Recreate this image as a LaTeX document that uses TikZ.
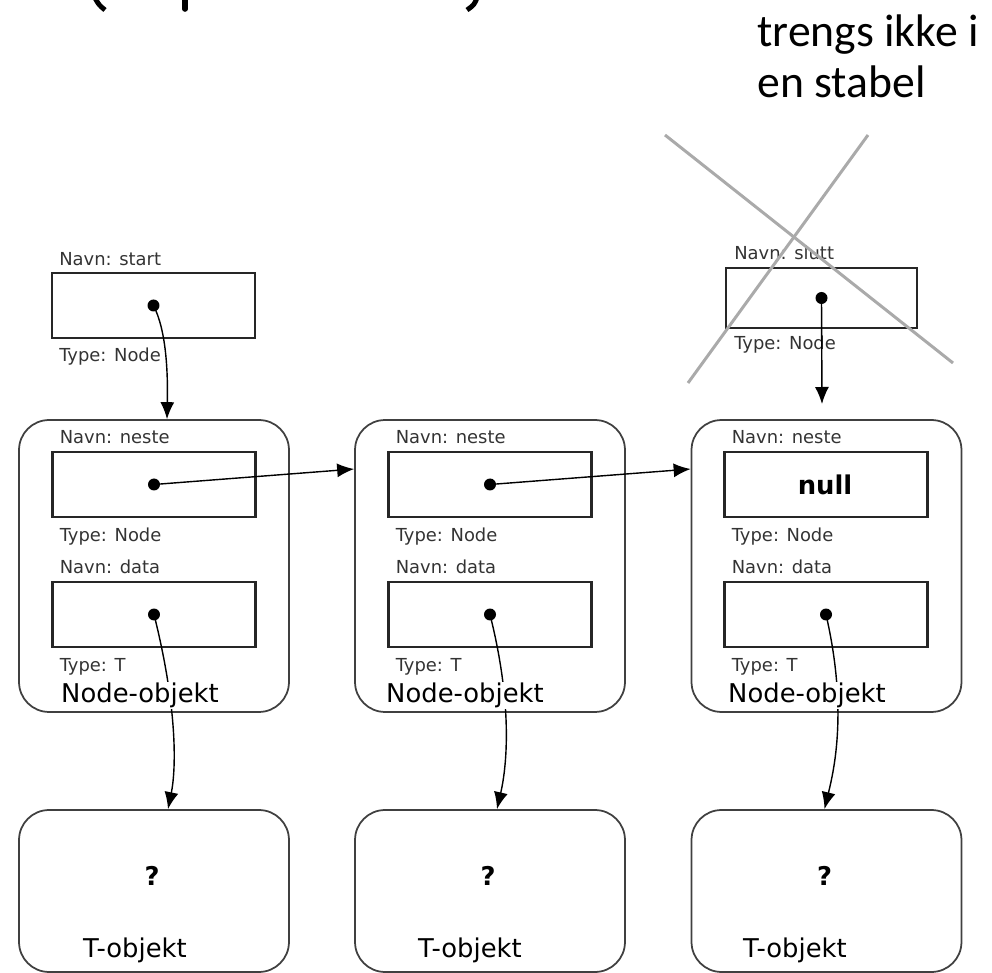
\documentclass[tikz,border=0pt]{standalone}
\usepackage{fontspec}
\setmainfont{DejaVu Sans}
\newfontfamily\notefont{Carlito}
\usepackage{tikz}
\usetikzlibrary{arrows.meta}
\definecolor{crossgray}{RGB}{170,170,170}

\begin{document}
\begin{tikzpicture}[x=0.02cm, y=-0.02cm,
	objbox/.style={draw=black!75, line width=1pt, rounded corners=0.6cm, minimum width=5.4cm, minimum height=5.84cm, inner sep=0},
	tbox/.style={draw=black!75, line width=1pt, rounded corners=0.6cm, minimum width=5.4cm, minimum height=3.24cm, inner sep=0},
	refbox/.style={draw=black!85, line width=1.2pt, minimum width=4.06cm, minimum height=1.3cm, inner sep=0},
	circ/.style={circle, fill, minimum size=0.24cm, inner sep=0},
	lbl/.style={font=\fontsize{10.2}{12}\selectfont, text=black!80, inner sep=0, anchor=base west},
	objlbl/.style={font=\fontsize{14.7}{17}\selectfont, inner sep=0.5pt, anchor=base west, fill=white},
	bigsign/.style={font=\bfseries\fontsize{14.7}{17}\selectfont, inner sep=0},
	ptr/.style={-{Latex[length=0.34cm, width=0.28cm]}, line width=0.8pt}
]
\useasboundingbox (0,0) rectangle (992,973);

\draw[line width=2.8pt] (95,-2) .. controls (99,5) .. (105,10);
\draw[line width=3.2pt, line cap=round] (185,-2) -- (185,9);
\draw[line width=2.8pt] (477,-2) .. controls (474,5) .. (467,10);

\node[font=\notefont\fontsize{26}{29}\selectfont, inner sep=0, anchor=base west] (note1) at (757,47) {trengs ikke i};
\node[font=\notefont\fontsize{26}{29}\selectfont, inner sep=0, anchor=base west] (note2) at (757,98) {en stabel};

\node[refbox] (start) at (153.5,305.5) {};
\node[circ] (dstart) at (start.center) {};
\node[lbl] (navnstart) at ([xshift=0.16cm, yshift=0.12cm]start.north west) {Navn: start};
\node[lbl] (typestart) at ([xshift=0.16cm, yshift=-0.44cm]start.south west) {Type: Node};

\node[refbox, minimum width=3.82cm, minimum height=1.2cm] (slutt) at (821.5,298) {};
\node[circ] (dslutt) at (slutt.center) {};
\node[lbl] (navnslutt) at ([xshift=0.18cm, yshift=0.14cm]slutt.south west |- slutt.north) {Navn: slutt};
\node[lbl] (typeslutt) at ([xshift=0.18cm, yshift=-0.4cm]slutt.south west) {Type: Node};

\node[objbox] (nobj1) at (154,566) {};
\node[objbox] (nobj2) at (490,566) {};
\node[objbox] (nobj3) at (826.5,566) {};

\node[refbox] (neste1) at (154,484.5) {};
\node[refbox] (neste2) at (490,484.5) {};
\node[refbox] (neste3) at (826,484.5) {};
\node[refbox] (data1) at (154,614.5) {};
\node[refbox] (data2) at (490,614.5) {};
\node[refbox] (data3) at (826,614.5) {};

\node[circ] (dneste1) at (neste1.center) {};
\node[circ] (dneste2) at (neste2.center) {};
\node[bigsign] (null3) at ([xshift=-0.02cm]neste3.center) {null};
\node[circ] (ddata1) at (data1.center) {};
\node[circ] (ddata2) at (data2.center) {};
\node[circ] (ddata3) at (data3.center) {};

\node[lbl] (navnneste1) at ([xshift=0.16cm, yshift=0.14cm]neste1.north west) {Navn: neste};
\node[lbl] (navnneste2) at ([xshift=0.16cm, yshift=0.14cm]neste2.north west) {Navn: neste};
\node[lbl] (navnneste3) at ([xshift=0.16cm, yshift=0.14cm]neste3.north west) {Navn: neste};
\node[lbl] (typeneste1) at ([xshift=0.16cm, yshift=-0.46cm]neste1.south west) {Type: Node};
\node[lbl] (typeneste2) at ([xshift=0.16cm, yshift=-0.46cm]neste2.south west) {Type: Node};
\node[lbl] (typeneste3) at ([xshift=0.16cm, yshift=-0.46cm]neste3.south west) {Type: Node};
\node[lbl] (navndata1) at ([xshift=0.16cm, yshift=0.14cm]data1.north west) {Navn: data};
\node[lbl] (navndata2) at ([xshift=0.16cm, yshift=0.14cm]data2.north west) {Navn: data};
\node[lbl] (navndata3) at ([xshift=0.16cm, yshift=0.14cm]data3.north west) {Navn: data};
\node[lbl] (typedata1) at ([xshift=0.16cm, yshift=-0.46cm]data1.south west) {Type: T};
\node[lbl] (typedata2) at ([xshift=0.16cm, yshift=-0.46cm]data2.south west) {Type: T};
\node[lbl] (typedata3) at ([xshift=0.16cm, yshift=-0.46cm]data3.south west) {Type: T};

\node[tbox] (tobj1) at (154,891) {};
\node[tbox] (tobj2) at (490,891) {};
\node[tbox] (tobj3) at (826.5,891) {};

\node[bigsign] (q1) at ([xshift=-0.04cm, yshift=0.3cm]tobj1.center) {?};
\node[bigsign] (q2) at ([xshift=-0.04cm, yshift=0.3cm]tobj2.center) {?};
\node[bigsign] (q3) at ([xshift=-0.04cm, yshift=0.3cm]tobj3.center) {?};
\node[objlbl, fill=none] (tname1) at (82,957) {T-objekt};
\node[objlbl, fill=none] (tname2) at (417,957) {T-objekt};
\node[objlbl, fill=none] (tname3) at (742,957) {T-objekt};

\coordinate (sluttend) at (822,404);
\draw[ptr] (dstart.center) .. controls (166,330) and (168,370) .. ([xshift=0.26cm]nobj1.north);
\draw[ptr] (dslutt.center) -- (sluttend);
\draw[ptr] (dneste1.center) -- ([yshift=1.94cm]nobj2.west);
\draw[ptr] (dneste2.center) -- ([yshift=1.94cm]nobj3.west);
\draw[ptr] (ddata1.center) .. controls (178,710) and (176,770) .. ([xshift=0.28cm]tobj1.north);
\draw[ptr] (ddata2.center) .. controls (514,710) and (506,770) .. ([xshift=0.14cm]tobj2.north);
\draw[ptr] (ddata3.center) .. controls (848,710) and (834,770) .. ([xshift=-0.04cm]tobj3.north);

\node[objlbl] (objname1) at (60,703) {Node-objekt};
\node[objlbl] (objname2) at (385,703) {Node-objekt};
\node[objlbl] (objname3) at (727,703) {Node-objekt};

\draw[crossgray, line width=1.7pt] (665,135) -- (953,363);
\draw[crossgray, line width=1.7pt] (868,135) -- (688,383);
\end{tikzpicture}
\end{document}
